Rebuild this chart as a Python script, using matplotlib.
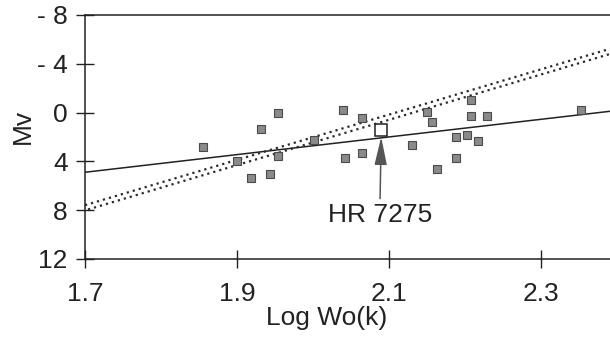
import matplotlib
matplotlib.use("Agg")
import matplotlib.pyplot as plt
import matplotlib.transforms as mtransforms
import numpy as np

# ---- data ----
logw = [1.855, 1.900, 1.918, 1.944, 1.954, 1.932, 1.954, 2.002, 2.040, 2.042,
        2.065, 2.065, 2.131, 2.150, 2.157, 2.163, 2.188, 2.188, 2.203, 2.217,
        2.208, 2.208, 2.229, 2.353]
mv = [2.84, 3.96, 5.33, 5.05, 3.53, 1.35, 0.01, 2.25, -0.21, 3.76,
      0.47, 3.31, 2.67, -0.09, 0.73, 4.62, 2.04, 3.76, 1.84, 2.29,
      -1.07, 0.24, 0.26, -0.21]
hr_name = "HR 7275"
hr_logw = 2.090
hr_mv = 1.43
# regression lines: Mv at the two ends of the x range
fit_x = [1.70, 2.39]
fit_solid = [4.89, -0.10]
fit_dotted = [7.80, -5.00]

xticks = [1.7, 1.9, 2.1, 2.3]
xticklabels = ["1.7", "1.9", "2.1", "2.3"]
yticks = [-8, -4, 0, 4, 8, 12]
yticklabels = ["- 8", "- 4", "0", "4", "8", "12"]

plt.rcParams['font.family'] = ['Liberation Sans', 'DejaVu Sans']

fig = plt.figure(figsize=(6.10, 3.41), dpi=100)
ax = fig.add_axes([85/610, 82/341, 525/610, 244/341])

ink = '#222222'

# solid line
ax.plot(fit_x, fit_solid, color=ink, lw=1.1, zorder=2)

# double-dotted line: two staggered dotted rows
for dy, off in [(2.6, 0.0), (-2.6, 1.4)]:
    tr = mtransforms.offset_copy(ax.transData, fig=fig, x=0, y=dy, units='dots')
    ax.plot(fit_x, fit_dotted, color='#2a2a2a', lw=1.6,
            linestyle=(off, (1, 1.8)), transform=tr, zorder=2)

# stars
ax.plot(logw, mv, linestyle='none', marker='s', markersize=6.2,
        markerfacecolor='#8a8a8a', markeredgecolor='#4a4a4a',
        markeredgewidth=0.8, zorder=3)

# HR 7275
ax.plot([hr_logw], [hr_mv], linestyle='none', marker='s', markersize=8.5,
        markerfacecolor='none', markeredgecolor=ink, markeredgewidth=1.1, zorder=4)
ax.annotate(hr_name, xy=(hr_logw, hr_mv), xytext=(hr_logw - 0.002, 8.38),
            ha='center', va='center', fontsize=19, color=ink,
            arrowprops=dict(arrowstyle='-|>,head_length=0.9,head_width=0.2',
                            color='#555555', lw=1.1, shrinkA=1, shrinkB=5))

ax.set_xlim(1.7, 2.391)
ax.set_ylim(12, -8)

ax.set_xticks(xticks)
ax.set_xticklabels(xticklabels)
ax.set_yticks(yticks)
ax.set_yticklabels(yticklabels)
ax.tick_params(direction='inout', length=13, width=1.0, color=ink,
               labelsize=19, labelcolor=ink)
ax.tick_params(axis='x', pad=10)
ax.tick_params(axis='y', pad=6)

for s in ['left', 'top', 'bottom']:
    ax.spines[s].set_color(ink)
    ax.spines[s].set_linewidth(1.1)
ax.spines['right'].set_visible(False)

ax.set_xlabel("Log Wo(k)", fontsize=19, color=ink, va='center', ha='center')
ax.xaxis.set_label_coords(0.461, -0.242)
ax.set_ylabel("Mv", fontsize=19, color=ink, va='center', ha='center')
ax.yaxis.set_label_coords(-0.118, 0.545)

fig.savefig("out.png", dpi=100)
